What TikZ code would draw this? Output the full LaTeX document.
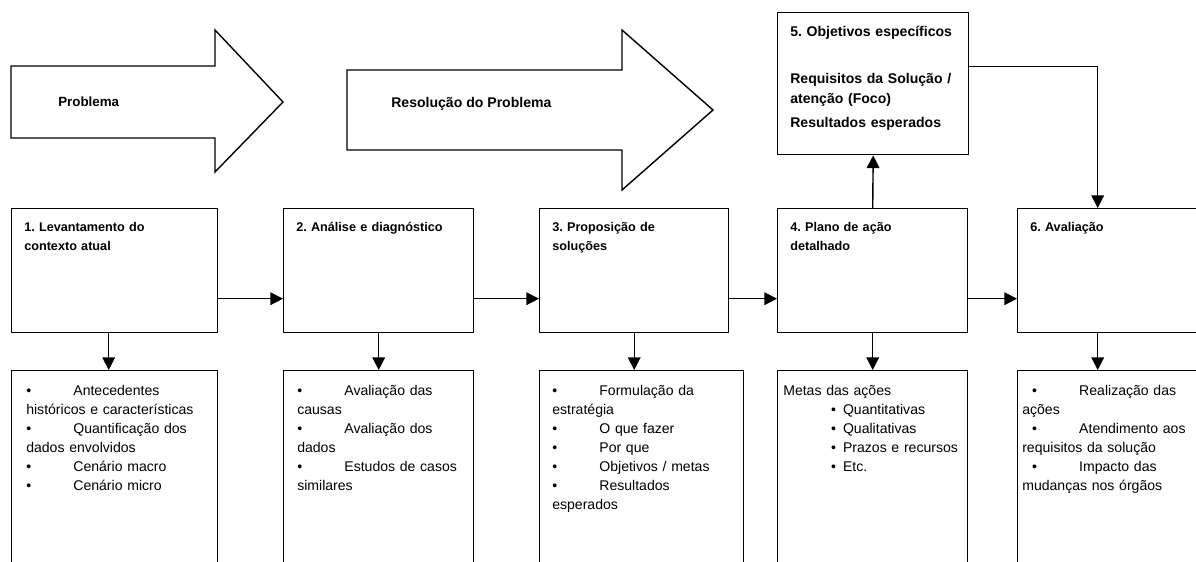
\documentclass[tikz,border=0pt]{standalone}
\usepackage{fontspec}
\setmainfont{Liberation Sans}
\usetikzlibrary{arrows.meta,calc}
\frenchspacing
\newcommand{\itm}[2][0pt]{\hspace*{#1}\makebox[33.5pt][l]{\textbullet}#2}
\newcommand{\subitm}[1]{\hspace*{34pt}\makebox[8.5pt][l]{\textbullet}#1}

\begin{document}
\begin{tikzpicture}[x=0.025cm,y=-0.025cm,
  stage/.style={draw, line width=1pt, inner sep=0pt, anchor=north west},
  sz/.style 2 args={minimum width=#1*0.025cm, minimum height=#2*0.025cm},
  ttl/.style={anchor=north west, inner sep=0pt, text width=4.6cm, align=left, font=\bfseries\fontsize{9}{13}\selectfont},
  obj/.style={anchor=north west, inner sep=0pt, text width=4.6cm, align=left, font=\bfseries\fontsize{10}{14.2}\selectfont},
  lst/.style={anchor=north west, inner sep=0pt, text width=4.6cm, align=left, font=\fontsize{10}{13.5}\selectfont},
  big/.style={line width=1pt, line join=miter},
  arr/.style={line width=1pt, -{Triangle[length=9pt,width=9pt]}}]
\useasboundingbox (0,0) rectangle (1196,561);
\clip (0,0) rectangle (1196,561);
% big arrows
\draw[big] (11,66) -- (215,66) -- (215,30) -- (283,102) -- (215,172) -- (215,138) -- (11,138) -- cycle;
\draw[big] (347,70) -- (622,70) -- (622,30) -- (713,110) -- (622,190) -- (622,150) -- (347,150) -- cycle;
\node[anchor=base west, inner sep=0pt, font=\bfseries\fontsize{9.5}{12}\selectfont] (p1) at (58,106) {Problema};
\node[anchor=base west, inner sep=0pt, font=\bfseries\fontsize{10}{12}\selectfont] (p2) at (391,107) {Resolução do Problema};
% stages
\node[stage, sz={206}{124}] (b1) at (11,208) {};
\node[stage, sz={190}{124}] (b2) at (283,208) {};
\node[stage, sz={189}{124}] (b3) at (539,208) {};
\node[stage, sz={190}{124}] (b4) at (777,208) {};
\node[stage, sz={193}{124}] (b6) at (1017,208) {};
\node[stage, sz={191}{142}] (b5) at (777,12) {};
\node[stage, sz={206}{230}] (d1) at (11,370) {};
\node[stage, sz={190}{230}] (d2) at (283,370) {};
\node[stage, sz={204}{230}] (d3) at (539,370) {};
\node[stage, sz={190}{230}] (d4) at (777,370) {};
\node[stage, sz={193}{230}] (d6) at (1017,370) {};
% titles
\node[ttl] (t1) at ($(b1.north west)+(13,10.7)$) {\strut 1. Levantamento do\\contexto atual};
\node[ttl] (t2) at ($(b2.north west)+(13,10.7)$) {\strut 2. Análise e diagnóstico};
\node[ttl] (t3) at ($(b3.north west)+(13,10.7)$) {\strut 3. Proposição de\\soluções};
\node[ttl] (t4) at ($(b4.north west)+(13,10.7)$) {\strut 4. Plano de ação\\detalhado};
\node[ttl] (t6) at ($(b6.north west)+(13,10.7)$) {\strut 6. Avaliação};
\node[obj] (t5) at ($(b5.north west)+(13,10)$) {\strut 5. Objetivos específicos\\[19.2pt]Requisitos da Solução /\\atenção (Foco)\\[2.9pt]Resultados esperados};
% lists
\node[lst] (l1) at ($(d1.north west)+(15,11.7)$) {\strut\itm{Antecedentes}\\históricos e características\\\itm{Quantificação dos}\\dados envolvidos\\\itm{Cenário macro}\\\itm{Cenário micro}};
\node[lst] (l2) at ($(d2.north west)+(14,11.7)$) {\strut\itm{Avaliação das}\\causas\\\itm{Avaliação dos}\\dados\\\itm{Estudos de casos}\\similares};
\node[lst] (l3) at ($(d3.north west)+(13,11.7)$) {\strut\itm{Formulação da}\\estratégia\\\itm{O que fazer}\\\itm{Por que}\\\itm{Objetivos / metas}\\\itm{Resultados}\\esperados};
\node[lst] (l4) at ($(d4.north west)+(6,11.7)$) {\strut Metas das ações\\\subitm{Quantitativas}\\\subitm{Qualitativas}\\\subitm{Prazos e recursos}\\\subitm{Etc.}};
\node[lst] (l6) at ($(d6.north west)+(5,11.7)$) {\strut\itm[7pt]{Realização das}\\ações\\\itm[7pt]{Atendimento aos}\\requisitos da solução\\\itm[7pt]{Impacto das}\\mudanças nos órgãos};
% connectors
\foreach \p/\q in {b1/b2,b2/b3,b3/b4,b4/b6}
  \draw[arr] ($(\p.east)+(0,28)$) -- ($(\q.west)+(0,28)$);
\coordinate (a1) at ($(b1.south)+(-6,0)$);
\coordinate (a6) at ($(b6.south)+(-16.5,0)$);
\coordinate (a5) at ($(b5.east)+(0,-17)$);
\draw[arr] (a1) -- (a1 |- d1.north);
\draw[arr] (b2.south) -- (d2.north);
\draw[arr] (b3.south) -- (b3.south |- d3.north);
\draw[arr] (b4.south) -- (d4.north);
\draw[arr] (a6) -- (a6 |- d6.north);
\draw[arr] (b4.north) -- (b5.south);
\draw[arr] (a5) -| (a6 |- b6.north);
\end{tikzpicture}
\end{document}
